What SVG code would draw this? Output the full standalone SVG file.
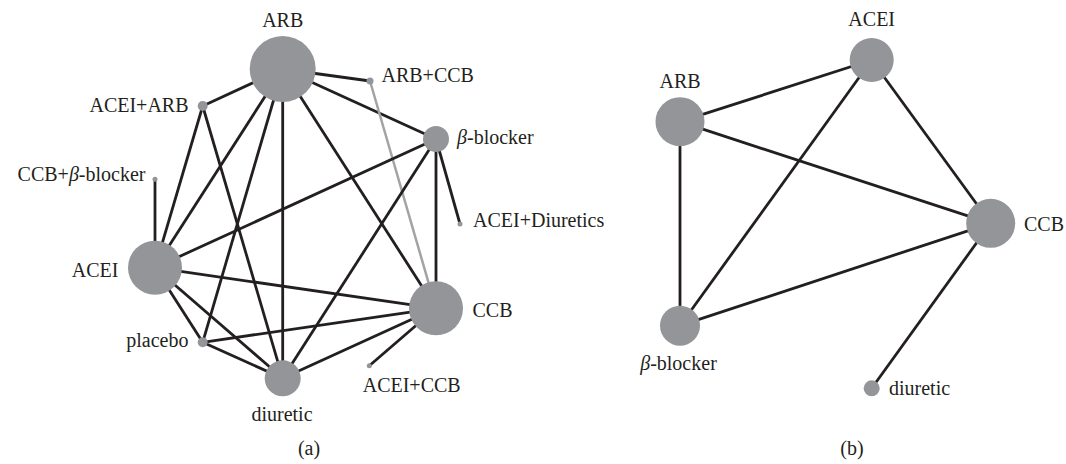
<svg xmlns="http://www.w3.org/2000/svg" width="1066" height="464" viewBox="0 0 1066 464">
<style>
.e{stroke:#231f20;stroke-width:2.8;fill:none}
.g{stroke:#a3a3a5;stroke-width:2.5;fill:none}
.n{fill:#939598}
text{font-family:"Liberation Serif","Times New Roman",serif;font-size:20px;fill:#231f20}
.l{text-anchor:end}
.m{text-anchor:middle}
.b{font-style:italic}
</style>
<rect width="1066" height="464" fill="#fff"/>
<g id="connectors-a">
<line class="e" x1="282.7" y1="69" x2="370" y2="81"/>
<line class="e" x1="282.7" y1="69" x2="202.7" y2="106"/>
<line class="e" x1="282.7" y1="69" x2="436" y2="139"/>
<line class="e" x1="282.7" y1="69" x2="155" y2="267.7"/>
<line class="e" x1="282.7" y1="69" x2="202.7" y2="342.3"/>
<line class="e" x1="282.7" y1="69" x2="282.7" y2="378.3"/>
<line class="e" x1="282.7" y1="69" x2="436" y2="308.3"/>
<line class="g" x1="370" y1="81" x2="436" y2="308.3"/>
<line class="e" x1="202.7" y1="106" x2="155" y2="267.7"/>
<line class="e" x1="202.7" y1="106" x2="282.7" y2="378.3"/>
<line class="e" x1="436" y1="139" x2="155" y2="267.7"/>
<line class="e" x1="436" y1="139" x2="282.7" y2="378.3"/>
<line class="e" x1="436" y1="139" x2="436" y2="308.3"/>
<line class="e" x1="436" y1="139" x2="460" y2="224"/>
<line class="e" x1="155" y1="179.3" x2="155" y2="267.7"/>
<line class="e" x1="155" y1="267.7" x2="436" y2="308.3"/>
<line class="e" x1="155" y1="267.7" x2="202.7" y2="342.3"/>
<line class="e" x1="155" y1="267.7" x2="282.7" y2="378.3"/>
<line class="e" x1="202.7" y1="342.3" x2="436" y2="308.3"/>
<line class="e" x1="202.7" y1="342.3" x2="282.7" y2="378.3"/>
<line class="e" x1="282.7" y1="378.3" x2="436" y2="308.3"/>
<line class="e" x1="436" y1="308.3" x2="369.3" y2="365.7"/>
</g>
<g id="connectors-b">
<line class="e" x1="680" y1="121.7" x2="871.7" y2="60"/>
<line class="e" x1="680" y1="121.7" x2="990.7" y2="223.3"/>
<line class="e" x1="680" y1="121.7" x2="680" y2="325.7"/>
<line class="e" x1="871.7" y1="60" x2="680" y2="325.7"/>
<line class="e" x1="871.7" y1="60" x2="990.7" y2="223.3"/>
<line class="e" x1="680" y1="325.7" x2="990.7" y2="223.3"/>
<line class="e" x1="990.7" y1="223.3" x2="871.7" y2="388.3"/>
</g>
<g id="a-ARB"><circle class="n" cx="282.7" cy="69" r="33"/><text class="m" x="282.7" y="27">ARB</text></g>
<g id="a-ARBCCB"><circle class="n" cx="370" cy="81" r="3.5"/><text x="381.5" y="82">ARB+CCB</text></g>
<g id="a-ACEIARB"><circle class="n" cx="202.7" cy="106" r="5"/><text class="l" x="188.5" y="111.5">ACEI+ARB</text></g>
<g id="a-bblocker"><circle class="n" cx="436" cy="139" r="13"/><text x="457" y="144"><tspan class="b">β</tspan>-blocker</text></g>
<g id="a-CCBbblocker"><circle class="n" cx="155" cy="179.3" r="2.5"/><text class="l" x="145.5" y="180.7">CCB+<tspan class="b">β</tspan>-blocker</text></g>
<g id="a-ACEIDiuretics"><circle class="n" cx="460" cy="224" r="2.5"/><text x="473" y="226.5">ACEI+Diuretics</text></g>
<g id="a-ACEI"><circle class="n" cx="155" cy="267.7" r="27"/><text class="l" x="118.5" y="276.7">ACEI</text></g>
<g id="a-CCB"><circle class="n" cx="436" cy="308.3" r="27"/><text x="472.5" y="316.7">CCB</text></g>
<g id="a-placebo"><circle class="n" cx="202.7" cy="342.3" r="5"/><text class="l" x="188.5" y="346.7">placebo</text></g>
<g id="a-diuretic"><circle class="n" cx="282.7" cy="378.3" r="18"/><text class="m" x="282" y="420.7">diuretic</text></g>
<g id="a-ACEICCB"><circle class="n" cx="369.3" cy="365.7" r="2.5"/><text x="362.7" y="391.7">ACEI+CCB</text></g>
<g id="b-ACEI"><circle class="n" cx="871.7" cy="60" r="22"/><text class="m" x="871.7" y="26">ACEI</text></g>
<g id="b-ARB"><circle class="n" cx="680" cy="121.7" r="24.5"/><text class="m" x="680" y="88.3">ARB</text></g>
<g id="b-CCB"><circle class="n" cx="990.7" cy="223.3" r="24.5"/><text x="1024" y="231">CCB</text></g>
<g id="b-bblocker"><circle class="n" cx="680" cy="325.7" r="20"/><text class="m" x="678.5" y="370"><tspan class="b">β</tspan>-blocker</text></g>
<g id="b-diuretic"><circle class="n" cx="871.7" cy="388.3" r="8"/><text x="889" y="395">diuretic</text></g>
<text class="m" x="309" y="455">(a)</text>
<text class="m" x="852" y="455">(b)</text>
</svg>
